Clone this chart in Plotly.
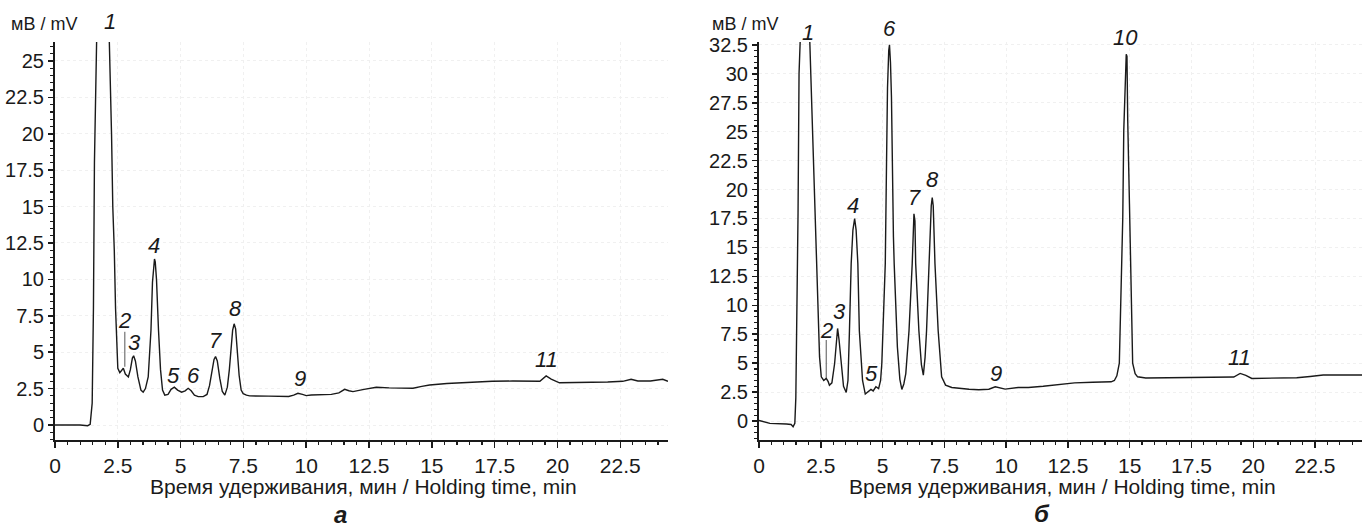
import plotly.graph_objects as go

# ---------------- data: panel "а" ----------------
t_a = [0.0, 0.5, 1.0, 1.3, 1.40, 1.48, 1.53, 1.57, 1.60, 1.70, 1.85, 2.00, 2.12, 2.19, 2.25, 2.30,
       2.36, 2.41, 2.45, 2.50, 2.58, 2.66, 2.72, 2.80, 2.92, 3.00, 3.08, 3.13, 3.20, 3.30, 3.42,
       3.51, 3.60, 3.71, 3.78, 3.82, 3.88, 3.93, 3.96, 3.99, 4.04, 4.12, 4.20, 4.28, 4.37, 4.50,
       4.62, 4.75, 4.88, 5.04, 5.18, 5.30, 5.42, 5.55, 5.70, 5.90, 6.05, 6.15, 6.25, 6.33, 6.39,
       6.46, 6.56, 6.66, 6.76, 6.86, 6.94, 7.00, 7.07, 7.13, 7.19, 7.26, 7.33, 7.41, 7.49, 7.62,
       7.75, 8.5, 9.0, 9.3, 9.5, 9.67, 9.85, 10.0, 10.2, 10.6, 11.0, 11.3, 11.53, 11.7, 11.86,
       12.3, 12.79, 13.3, 14.25, 14.6, 14.91, 15.6, 16.5, 17.4, 18.22, 19.0, 19.3, 19.55, 19.75,
       20.08, 21.14, 22.0, 22.6, 22.93, 23.2, 23.7, 24.19, 24.4]
mv_a = [0.0, 0.02, 0.0, -0.05, 0.05, 1.5, 8, 18, 28, 40, 45, 38, 30, 26, 20, 15,
        12, 8, 5.5, 3.9, 3.6, 3.8, 3.9, 3.5, 3.3, 3.8, 4.6, 4.75, 4.4, 3.3, 2.4,
        2.25, 2.5, 3.3, 5.2, 6.5, 9.8, 11.2, 11.4, 11.2, 10.0, 6.5, 3.8, 2.4, 2.05, 2.1,
        2.45, 2.6, 2.4, 2.25, 2.35, 2.52, 2.35, 2.05, 1.95, 1.95, 2.1, 2.7, 3.8, 4.5, 4.7,
        4.4, 3.2, 2.3, 2.05, 2.6, 3.8, 5.2, 6.5, 6.95, 6.6, 5.0, 3.4, 2.4, 2.15, 2.05,
        2.0, 1.98, 1.95, 1.96, 2.05, 2.18, 2.1, 2.02, 2.06, 2.1, 2.1, 2.2, 2.45, 2.35, 2.29,
        2.45, 2.59, 2.55, 2.52, 2.65, 2.75, 2.85, 2.95, 3.0, 3.02, 2.98, 3.0, 3.37, 3.15,
        2.9, 2.9, 2.95, 3.0, 3.14, 3.02, 3.02, 3.14, 3.0]

# ---------------- data: panel "б" ----------------
t_b = [0.0, 0.44, 1.11, 1.30, 1.38, 1.45, 1.49, 1.54, 1.58, 1.62, 1.70, 1.85, 1.98, 2.05, 2.14,
       2.18, 2.25, 2.32, 2.39, 2.45, 2.52, 2.62, 2.72, 2.80, 2.85, 2.95, 3.06, 3.13, 3.18, 3.24,
       3.32, 3.42, 3.53, 3.60, 3.66, 3.73, 3.80, 3.87, 3.93, 4.00, 4.06, 4.19, 4.30, 4.40, 4.53,
       4.62, 4.73, 4.84, 4.92, 4.97, 5.06, 5.11, 5.16, 5.20, 5.25, 5.28, 5.32, 5.36, 5.44, 5.47,
       5.60, 5.70, 5.78, 5.86, 5.94, 6.07, 6.20, 6.27, 6.31, 6.34, 6.47, 6.57, 6.65, 6.72, 6.78,
       6.88, 6.97, 7.01, 7.05, 7.12, 7.25, 7.39, 7.55, 7.8, 8.08, 8.5, 8.89, 9.3, 9.56, 9.75,
       9.96, 10.49, 10.9, 11.5, 12.1, 12.77, 13.5, 14.25, 14.38, 14.48, 14.58, 14.65, 14.72, 14.76,
       14.82, 14.86, 14.89, 14.92, 14.99, 15.05, 15.12, 15.22, 15.32, 15.65, 16.5, 17.87, 18.5,
       19.21, 19.47, 19.7, 19.94, 20.82, 21.76, 22.3, 22.83, 23.5, 24.4]
mv_b = [0.05, -0.2, -0.26, -0.3, -0.49, -0.2, 2, 9, 18, 30, 40, 44, 38, 33, 28.5,
        25.1, 20.8, 15, 10.7, 5.54, 3.82, 3.5, 3.68, 3.4, 3.1, 3.3, 4.97, 7.3, 8.0, 7.0,
        4.97, 3.0, 2.47, 3.5, 7.8, 13.6, 16.5, 17.5, 16.5, 13.6, 7.8, 3.5, 2.33, 2.5, 2.73,
        2.6, 2.96, 2.8, 3.5, 4.97, 10, 13.6, 22.2, 28.8, 32, 32.5, 31, 28, 15.9, 13.6,
        6.4, 3.6, 2.73, 3.2, 4.1, 7.8, 13.6, 17.9, 17.3, 13.6, 7.8, 4.9, 3.97, 5.5, 7.8,
        13.6, 18.6, 19.3, 18.6, 13.6, 7.8, 3.82, 3.1, 2.9, 2.82, 2.75, 2.7, 2.75, 2.96, 2.85,
        2.76, 2.9, 2.9, 3.0, 3.16, 3.3, 3.35, 3.39, 3.5, 3.9, 5.0, 10.7, 17.6, 25.1,
        29.5, 31.7, 31.5, 26, 18.8, 10.7, 5.0, 4.1, 3.82, 3.72, 3.74, 3.77, 3.75,
        3.8, 4.11, 3.95, 3.68, 3.74, 3.74, 3.85, 3.97, 3.97, 3.97]

# peak labels (text, time, mV)
labels_a = ["1", "2", "3", "4", "5", "6", "7", "8", "9", "11"]
lab_t_a = [2.19, 2.78, 3.18, 3.94, 4.73, 5.53, 6.39, 7.2, 9.74, 19.58]
lab_v_a = [27.7, 7.2, 5.65, 12.36, 3.43, 3.39, 5.77, 8.0, 3.2, 4.5]

labels_b = ["1", "2", "3", "4", "5", "6", "7", "8", "9", "10", "11"]
lab_t_b = [1.98, 2.72, 3.26, 3.79, 4.57, 5.3, 6.31, 7.04, 9.58, 14.85, 19.45]
lab_v_b = [33.6, 7.84, 9.48, 18.6, 4.11, 33.9, 19.3, 20.9, 4.11, 33.1, 5.5]

# leader line of peak 2 (time, mV from, mV to)
lead_a = [2.78, 6.4, 4.0]
lead_b = [2.72, 7.0, 3.7]

y_range_a = [-1.03, 26.3]
y_range_b = [-1.64, 32.75]
x_range = [0, 24.4]

xtitle = "Время удерживания, мин / Holding time, min"
ytitle = "мВ / mV"
panel_letters = ["а", "б"]

FONT = "Liberation Sans, Arial, sans-serif"
INK = "#1a1a1a"

W, H = 1363, 529
ydom = [1 - 440 / H, 1 - 42 / H]
xdom_a = [55 / W, 668 / W]
xdom_b = [759 / W, 1362 / W]

fig = go.Figure()
fig.add_trace(go.Scatter(x=t_a, y=mv_a, mode="lines", line=dict(color=INK, width=1.4),
                         xaxis="x", yaxis="y", showlegend=False, hoverinfo="skip"))
fig.add_trace(go.Scatter(x=t_b, y=mv_b, mode="lines", line=dict(color=INK, width=1.4),
                         xaxis="x2", yaxis="y2", showlegend=False, hoverinfo="skip"))


def xaxis(dom, anchor):
    return dict(domain=dom, range=x_range, dtick=2.5, tick0=0, ticks="outside", ticklen=6,
                tickwidth=1.5, tickcolor=INK, showline=True, linecolor=INK, linewidth=2,
                showgrid=True, gridcolor="#f0f0f0", griddash="dot", gridwidth=1,
                zeroline=False, tickfont=dict(family=FONT, size=21, color=INK),
                minor=dict(dtick=0.5, ticks="outside", ticklen=3, tickcolor=INK, tickwidth=1.2,
                           showgrid=False),
                anchor=anchor, automargin=False, fixedrange=True)


def yaxis(rng, anchor):
    return dict(domain=ydom, range=rng, dtick=2.5, tick0=0, ticks="outside", ticklen=5,
                tickwidth=1.5, tickcolor=INK, showline=True, linecolor=INK, linewidth=2,
                showgrid=True, gridcolor="#f0f0f0", griddash="dot", gridwidth=1,
                zeroline=False, tickfont=dict(family=FONT, size=20, color=INK),
                minor=dict(dtick=0.5, ticks="outside", ticklen=3, tickcolor=INK, tickwidth=1.2,
                           showgrid=False),
                anchor=anchor, automargin=False, fixedrange=True, ticklabelstandoff=0)


def to_paper_y(v, rng):
    return ydom[0] + (v - rng[0]) / (rng[1] - rng[0]) * (ydom[1] - ydom[0])


def ann(x, y, xref, text, size):
    return dict(x=x, y=y, xref=xref, yref="paper", text=text, showarrow=False,
                xanchor="center", yanchor="middle", font=dict(family=FONT, size=size, color=INK))


annotations = []
for txt, tx, ty in zip(labels_a, lab_t_a, lab_v_a):
    annotations.append(ann(tx, to_paper_y(ty, y_range_a), "x", "<i>" + txt + "</i>", 22))
for txt, tx, ty in zip(labels_b, lab_t_b, lab_v_b):
    annotations.append(ann(tx, to_paper_y(ty, y_range_b), "x2", "<i>" + txt + "</i>", 22))

# y titles at top-left of each axis
for xc in (43.5, 745):
    annotations.append(ann(xc / W, 1 - 24 / H, "paper", ytitle, 18))
# x titles
for dom in (xdom_a, xdom_b):
    annotations.append(ann((dom[0] + dom[1]) / 2 + 2 / W, 1 - 486 / H, "paper", xtitle, 21))
# panel letters
annotations.append(ann(340 / W, 1 - 514 / H, "paper", "<b><i>" + panel_letters[0] + "</i></b>", 24))
annotations.append(ann(1042 / W, 1 - 513 / H, "paper", "<b><i>" + panel_letters[1] + "</i></b>", 24))

shapes = [
    dict(type="line", xref="x", yref="y", x0=lead_a[0], x1=lead_a[0], y0=lead_a[1], y1=lead_a[2],
         line=dict(color="#555", width=1)),
    dict(type="line", xref="x2", yref="y2", x0=lead_b[0], x1=lead_b[0], y0=lead_b[1], y1=lead_b[2],
         line=dict(color="#555", width=1)),
]

fig.update_layout(
    width=W, height=H, margin=dict(l=0, r=0, t=0, b=0, autoexpand=False),
    paper_bgcolor="white", plot_bgcolor="white",
    xaxis=xaxis(xdom_a, "y"), yaxis=yaxis(y_range_a, "x"),
    xaxis2=xaxis(xdom_b, "y2"), yaxis2=yaxis(y_range_b, "x2"),
    annotations=annotations, shapes=shapes, showlegend=False,
)

fig.write_html("out.html", config={"displayModeBar": False, "staticPlot": True},
               post_script="document.body.style.margin='0';document.body.style.overflow='hidden';")
